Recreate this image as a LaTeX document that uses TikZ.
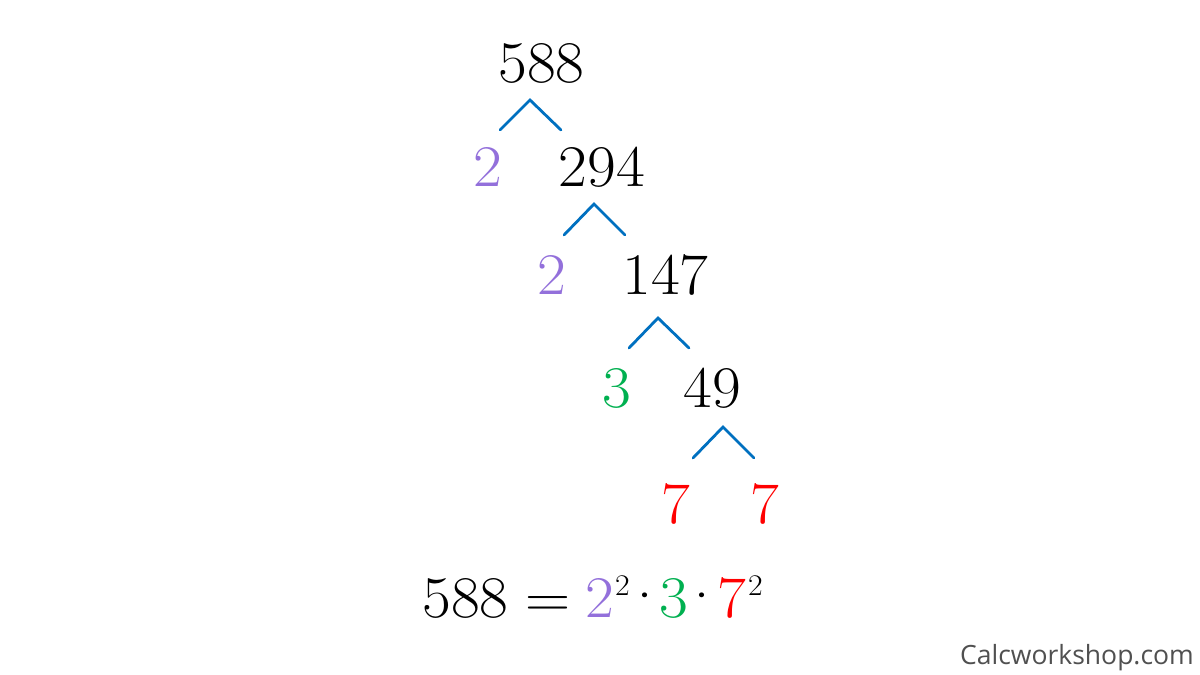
\documentclass[tikz,border=0pt]{standalone}
\usepackage{fontspec}
\setmainfont{Latin Modern Roman}[FakeStretch=1.06]
\newfontfamily\wmfont{Open Sans}
\definecolor{fpurple}{HTML}{9370DB}
\definecolor{fgreen}{HTML}{00B050}
\definecolor{fred}{HTML}{FF0000}
\definecolor{fblue}{HTML}{0070C0}
\definecolor{wmgray}{HTML}{505050}
\begin{document}
\begin{tikzpicture}[x=1pt,y=-1pt,
  num/.style={anchor=base, inner sep=0pt, font=\fontsize{59}{64}\selectfont},
  sup/.style={anchor=base, inner sep=0pt, font=\fontsize{30}{34}\selectfont},
  branch/.style={draw=fblue, line width=2.8pt, line cap=round, line join=miter}]
\useasboundingbox[fill=white] (0,0) rectangle (1200,675);
% tree numbers
\node[num] (n588) at (541.5,82) {588};
\node[num, text=fpurple] (p1) at (488,186) {2};
\node[num] (n294) at (602,186) {294};
\node[num, text=fpurple] (p2) at (552,294) {2};
\node[num] (n147) at (665.5,294) {147};
\node[num, text=fgreen] (g3) at (617,407) {3};
\node[num] (n49) at (712.5,407) {49};
\node[num, text=fred] (r7a) at (675.5,523) {7};
\node[num, text=fred] (r7b) at (765,523) {7};
% branches
\coordinate (a1) at (530,100); \coordinate (l1) at (500,130); \coordinate (r1) at (561,130);
\coordinate (a2) at (594,204); \coordinate (l2) at (564,235); \coordinate (r2) at (625,235);
\coordinate (a3) at (658,318); \coordinate (l3) at (629,348); \coordinate (r3) at (689,348);
\coordinate (a4) at (723,427); \coordinate (l4) at (693,458); \coordinate (r4) at (754,458);
\draw[branch] (l1) -- (a1) -- (r1);
\draw[branch] (l2) -- (a2) -- (r2);
\draw[branch] (l3) -- (a3) -- (r3);
\draw[branch] (l4) -- (a4) -- (r4);
% equation
\node[num] (e588) at (465.5,617) {588};
\node[num] (eeq) at (548.5,617) {=};
\node[num, text=fpurple] (e2) at (600,617) {2};
\node[sup] (e2s) at (622.5,595) {2};
\node[num] (ed1) at (645.5,615) {\smash{·}};
\node[num, text=fgreen] (e3) at (673.5,617) {3};
\node[num] (ed2) at (702.5,615) {\smash{·}};
\node[num, text=fred] (e7) at (731.5,617) {7};
\node[sup] (e7s) at (755.5,595) {2};
% watermark
\node[anchor=base east, inner sep=0pt, text=wmgray, font=\wmfont\fontsize{26.5}{30}\selectfont] (wm) at (1194,664) {Calcworkshop.com};
\end{tikzpicture}
\end{document}
